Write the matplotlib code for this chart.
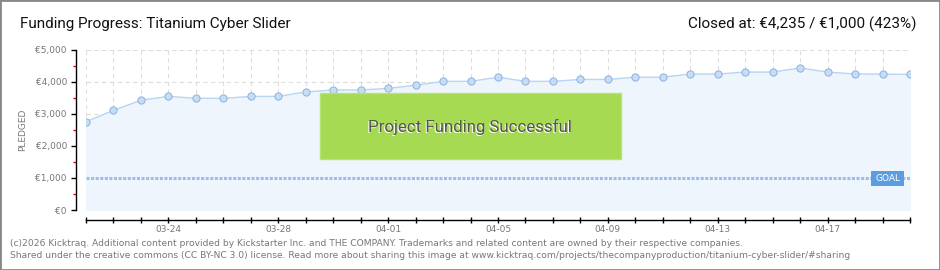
import matplotlib
matplotlib.use("Agg")
import matplotlib.pyplot as plt
from matplotlib.patches import Rectangle
from matplotlib.ticker import FixedLocator, MultipleLocator

# ---- data ----
dates = ["03-21", "03-22", "03-23", "03-24", "03-25", "03-26", "03-27", "03-28",
         "03-29", "03-30", "03-31", "04-01", "04-02", "04-03", "04-04", "04-05",
         "04-06", "04-07", "04-08", "04-09", "04-10", "04-11", "04-12", "04-13",
         "04-14", "04-15", "04-16", "04-17", "04-18", "04-19", "04-20"]
pledged = [2760, 3115, 3430, 3550, 3490, 3490, 3550, 3550,
           3690, 3750, 3750, 3800, 3900, 4020, 4020, 4150,
           4020, 4020, 4080, 4080, 4150, 4150, 4250, 4250,
           4310, 4310, 4440, 4310, 4250, 4250, 4235]
goal = 1000
y_ticks = [0, 1000, 2000, 3000, 4000, 5000]
y_labels = ["€0", "€1,000", "€2,000", "€3,000", "€4,000", "€5,000"]
x_label_dates = ["03-24", "03-28", "04-01", "04-05", "04-09", "04-13", "04-17"]

title = "Funding Progress: Titanium Cyber Slider"
status = "Closed at: €4,235 / €1,000 (423%)"
banner = "Project Funding Successful"
footer1 = ("(c)2026 Kicktraq. Additional content provided by Kickstarter Inc. and THE COMPANY. "
           "Trademarks and related content are owned by their respective companies.")
footer2 = ("Shared under the creative commons (CC BY-NC 3.0) license. Read more about sharing this image "
           "at www.kicktraq.com/projects/thecompanyproduction/titanium-cyber-slider/#sharing")

W, H = 940, 270
fig = plt.figure(figsize=(W / 100, H / 100), dpi=100)
fig.patch.set_facecolor("white")

cond = ["Roboto", "DejaVu Sans"]

def px(x, y):
    return x / W, 1 - y / H

# axes: plot area x 86..910, y 50..210
ax = fig.add_axes([86 / W, (H - 210) / H, (910 - 86) / W, 160 / H])
ax.set_facecolor("none")
x = list(range(len(dates)))
ax.fill_between(x, pledged, 0, color="#eef5fd", zorder=1)
ax.plot(x, pledged, color="#b9d5f2", lw=1.0, zorder=3)
ax.plot(x, pledged, ls="none", marker="o", ms=5.2, mfc="#c5ddf7", mec="#8fb1dc",
        mew=0.7, zorder=4)
ax.plot([x[0], x[-1]], [goal, goal], color="#9dbfe6", lw=2.2,
        dashes=(1.0, 0.5), solid_capstyle="butt", dash_capstyle="butt", zorder=2)

ax.set_xlim(x[0], x[-1])
ax.set_ylim(0, 5000)

# grid
for xi in x:
    ax.axvline(xi, color="#dddddd", lw=0.8, ls=(0, (4, 3)), zorder=0.5)
for yv in y_ticks:
    ax.axhline(yv, color="#dddddd", lw=0.8, ls=(0, (4, 3)), zorder=0.5)

for s in ["top", "right"]:
    ax.spines[s].set_visible(False)
ax.spines["left"].set_position(("outward", 7.2))
ax.spines["bottom"].set_position(("outward", 7.2))
ax.spines["left"].set_linewidth(1.0)
ax.spines["bottom"].set_linewidth(1.0)

ax.yaxis.set_major_locator(FixedLocator(y_ticks))
ax.set_yticklabels(y_labels)
ax.yaxis.set_minor_locator(MultipleLocator(500))
ax.tick_params(axis="y", which="major", direction="out", length=3.5, width=1,
               color="black", labelsize=6.5, labelcolor="#777777", pad=3)
ax.tick_params(axis="y", which="minor", direction="out", length=2.5, width=1,
               color="#dd0000")

ax.xaxis.set_major_locator(FixedLocator([dates.index(d) for d in x_label_dates]))
ax.set_xticklabels(x_label_dates)
ax.xaxis.set_minor_locator(FixedLocator(x))
ax.tick_params(axis="x", which="both", direction="inout", length=5, width=1,
               color="black", labelsize=6.5, labelcolor="#777777", pad=1)
ax.set_ylabel("PLEDGED", fontsize=6.5, color="#777777", labelpad=6)

# GOAL tag
gx0, gy0 = 871, 171
fig.patches.append(Rectangle(px(gx0, gy0 + 14.5), 33 / W, 14.5 / H,
                             transform=fig.transFigure, facecolor="#5b9ee0",
                             edgecolor="none", zorder=5))
fig.text(*px(gx0 + 16.5, gy0 + 7.5), "GOAL", color="white", fontsize=6.5,
         ha="center", va="center", zorder=6)

# success banner
fig.patches.append(Rectangle(px(320, 158.5), 301 / W, 66 / H,
                             transform=fig.transFigure, facecolor="#a6da52",
                             edgecolor="#b9e36f", lw=1, zorder=5))
fig.text(*px(469, 127.5), banner, color="white", fontsize=12.2, family=cond,
         ha="center", va="center", zorder=6)
fig.text(*px(470, 126.5), banner, color="#555555", fontsize=12.2, family=cond,
         ha="center", va="center", zorder=7)

# titles
fig.text(*px(20, 24), title, fontsize=11, family=cond, color="#111111",
         ha="left", va="center")
fig.text(*px(917, 24), status, fontsize=11, family=cond, color="#111111",
         ha="right", va="center")

# footer
fig.text(*px(10, 243), footer1, fontsize=6.6, color="#777777", ha="left", va="center")
fig.text(*px(10, 256), footer2, fontsize=6.6, color="#777777", ha="left", va="center")

# border
fig.patches.append(Rectangle((0, 0), 1, 1, transform=fig.transFigure,
                             facecolor="none", edgecolor="#888888", lw=2.0))

fig.savefig("out.png", dpi=100)
